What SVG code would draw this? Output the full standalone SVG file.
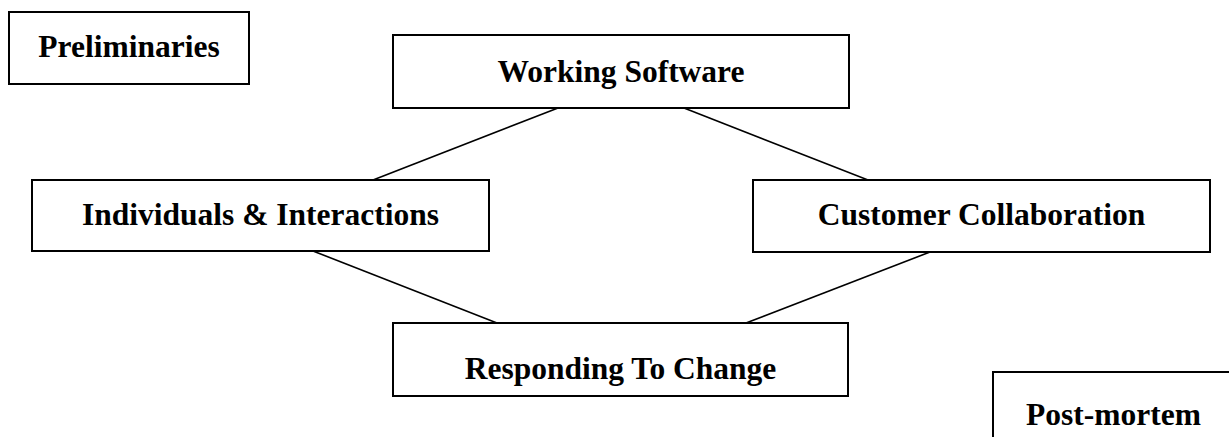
<svg xmlns="http://www.w3.org/2000/svg" width="1229" height="437" viewBox="0 0 1229 437">
<style>
.box{fill:#fff;stroke:#000;stroke-width:2}
.lbl{font-family:"Liberation Serif","Times New Roman",serif;font-weight:bold;font-size:31.5px;fill:#000;text-anchor:middle}
.conn line{stroke:#000;stroke-width:1.6}
</style>
<rect width="1229" height="437" fill="#fff"/>
<g id="connectors" class="conn">
<line x1="558" y1="108" x2="373" y2="180"/>
<line x1="684" y1="108" x2="868" y2="180"/>
<line x1="313" y1="251" x2="497" y2="323"/>
<line x1="930" y1="252" x2="746" y2="323"/>
</g>
<g id="preliminaries">
<rect class="box" x="9" y="12" width="240" height="72"/>
<text class="lbl" x="129" y="57">Preliminaries</text>
</g>
<g id="working-software">
<rect class="box" x="393" y="35" width="456" height="73"/>
<text class="lbl" x="621" y="82">Working Software</text>
</g>
<g id="individuals">
<rect class="box" x="32" y="180" width="457" height="71"/>
<text class="lbl" x="260.5" y="225">Individuals &amp; Interactions</text>
</g>
<g id="customer">
<rect class="box" x="753" y="180" width="457" height="72"/>
<text class="lbl" x="981.5" y="225">Customer Collaboration</text>
</g>
<g id="responding">
<rect class="box" x="393" y="323" width="455" height="73"/>
<text class="lbl" x="620.5" y="379">Responding To Change</text>
</g>
<g id="post-mortem">
<rect class="box" x="993" y="372" width="300" height="100"/>
<text class="lbl" x="1113.5" y="425">Post-mortem</text>
</g>
</svg>
